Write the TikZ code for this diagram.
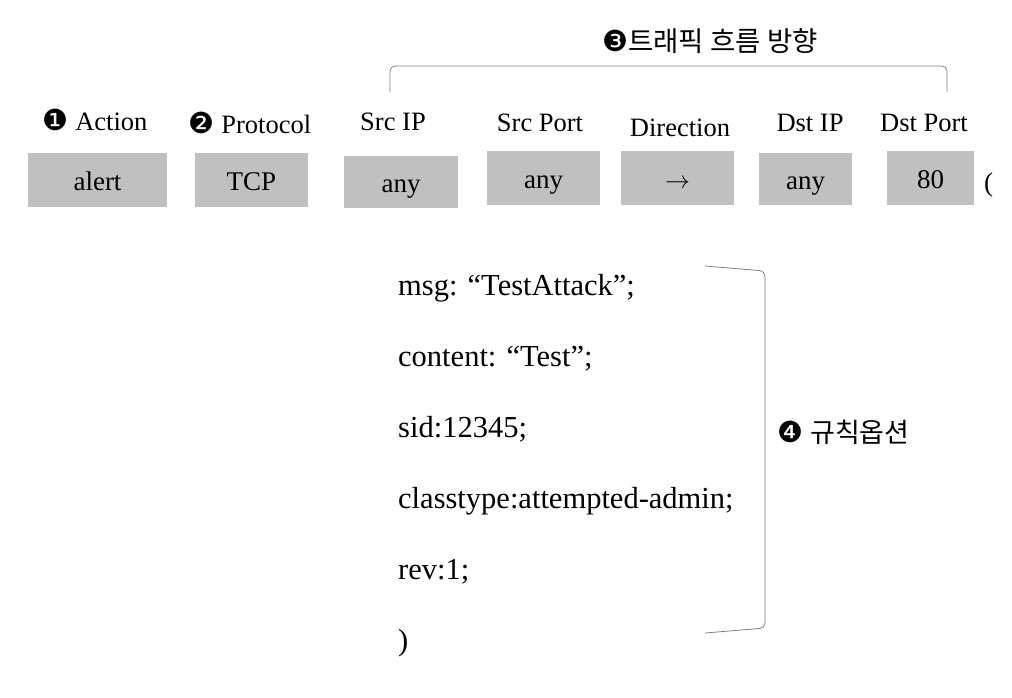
\documentclass[tikz,border=0pt]{standalone}
\usepackage{fontspec}
\setmainfont{Liberation Serif}
\newfontfamily\korfont{Noto Sans CJK KR}
\newfontfamily\symfont{DejaVu Sans}
\newcommand\circnum[1]{{\symfont\fontsize{29}{29}\selectfont #1}}
\definecolor{boxgray}{RGB}{192,192,192}
\definecolor{linegray}{RGB}{128,128,128}

\begin{document}
\begin{tikzpicture}[x=1pt,y=-1pt,
  field/.style={fill=boxgray, minimum height=54pt, inner sep=0pt,
    text height=20pt, text depth=0pt, font=\fontsize{27}{30}\selectfont},
  head/.style={anchor=base, inner sep=0pt, font=\fontsize{26.5}{30}\selectfont},
  optline/.style={anchor=base west, inner sep=0pt, font=\fontsize{30.5}{34}\selectfont},
  bracket/.style={draw=linegray, line width=0.8pt, rounded corners=5pt}]
\useasboundingbox (0,0) rectangle (1012,697);

% rule header
\node[field, minimum width=139pt] (alert) at (97.5,180) {alert};
\node[field, minimum width=113pt] (tcp) at (251.5,180) {TCP};
\node[field, minimum width=114pt, minimum height=52pt] (srcip) at (401,182) {any};
\node[field, minimum width=113pt] (srcport) at (543.5,178) {any};
\node[field, minimum width=113pt] (dir) at (677.5,178) {$\rightarrow$};
\node[field, minimum width=93pt, minimum height=52pt] (dstip) at (805.5,179) {any};
\node[field, minimum width=87pt] (dstport) at (930.5,178) {80};
\node[anchor=west, inner sep=0pt, font=\fontsize{27}{30}\selectfont] (paren) at (984,185) {(};

\node[head] (lact) at (95,130) {\circnum{❶} Action};
\node[head] (lproto) at (250,133) {\circnum{❷} Protocol};
\node[head] (lsrcip) at (393,130) {Src IP};
\node[head] (lsrcport) at (540,131) {Src Port};
\node[head] (ldir) at (680,136) {Direction};
\node[head] (ldstip) at (810,131) {Dst IP};
\node[head] (ldstport) at (924,131) {Dst Port};

% traffic direction
\node[anchor=base, inner sep=0pt] (flow) at (710,51)
  {\circnum{❸}{\korfont\fontsize{27.5}{30}\selectfont 트래픽 흐름 방향}};
\coordinate (fl) at (390,92);
\coordinate (fr) at (947,92);
\draw[bracket] (fl) -- ++(0,-26) -| (fr);

% rule options
\node[optline] (msg) at (398,295) {msg: “TestAttack”;};
\node[optline] (content) at (398,366) {content: “Test”;};
\node[optline] (sid) at (398,437) {sid:12345;};
\node[optline] (ctype) at (398,508) {classtype:attempted-admin;};
\node[optline] (rev) at (398,579) {rev:1;};
\node[optline] (close) at (398,650) {)};

\coordinate (ot) at (705,266);
\coordinate (ob) at (705,633);
\draw[bracket] (ot) -- ++(60,5) -- ++(0,357) -- (ob);
\node[anchor=west, inner sep=0pt] (opts) at (777,432)
  {\circnum{❹}\hspace{7pt}{\korfont\fontsize{27}{30}\selectfont 규칙옵션}};
\end{tikzpicture}
\end{document}
